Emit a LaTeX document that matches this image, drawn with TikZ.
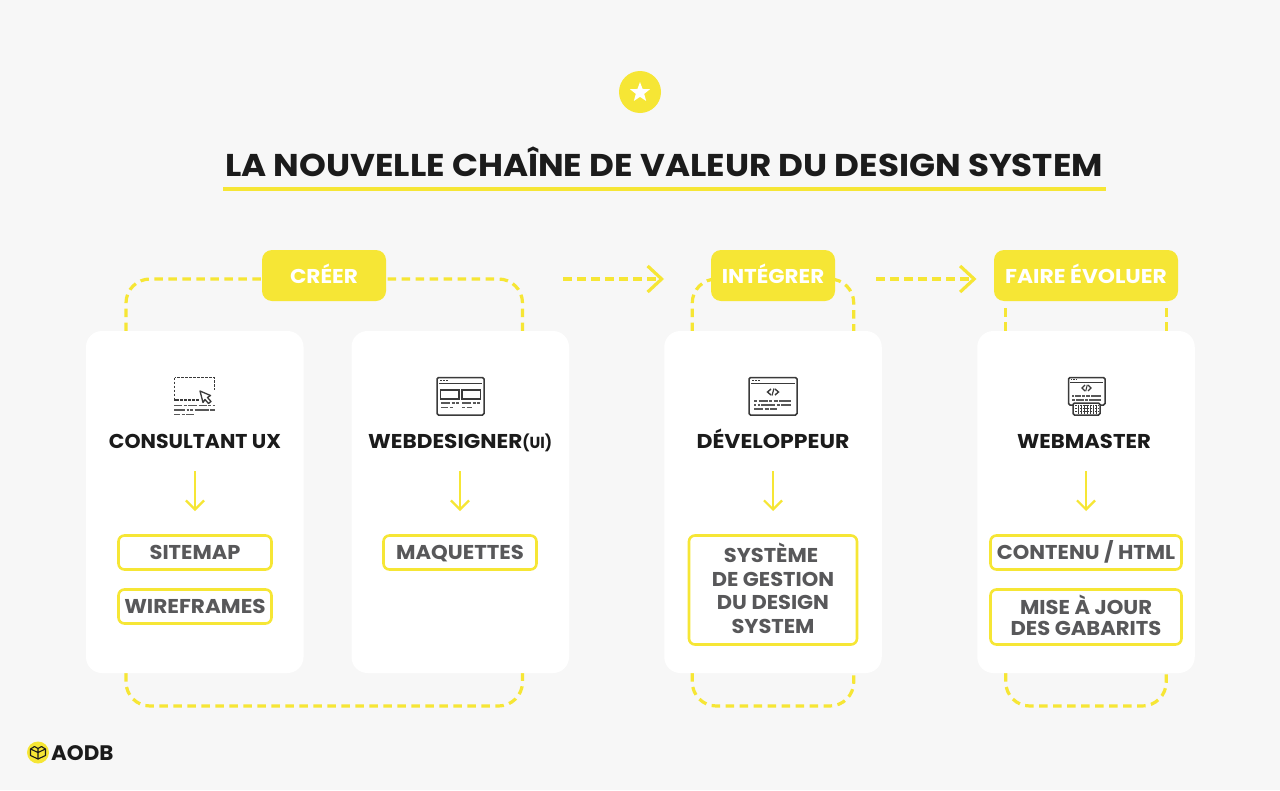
\documentclass[tikz,border=0pt]{standalone}
\usepackage{fontspec}
\setmainfont{Poppins}
\usetikzlibrary{arrows.meta,backgrounds,calc,shapes.geometric}
\definecolor{ybrand}{HTML}{F6E635}
\definecolor{pagebg}{HTML}{F7F7F7}
\definecolor{inktext}{HTML}{1B1B1B}
\definecolor{greytext}{HTML}{58585A}
\definecolor{iconink}{HTML}{3A3A3A}
\newcommand{\fsz}[2]{\fontsize{#1}{#2}\selectfont\bfseries}
\newcommand{\sx}[1]{\addfontfeature{FakeStretch=#1}}
\tikzset{
  x=1pt,y=-1pt,
  cardbox/.style={fill=white,rounded corners=16pt,minimum height=342pt,minimum width=217.5pt,inner sep=0pt,outer sep=0pt},
  capline/.style={text height=14pt,text depth=0pt},
  pillbox/.style={fill=ybrand,rounded corners=10pt,minimum height=51pt,inner sep=0pt,outer sep=0pt,text=white,font=\fsz{20}{24},text height=15.5pt,text depth=0pt},
  rolelabel/.style={text=inktext,font=\fsz{20}{24},inner sep=0pt,anchor=base},
  outbox/.style={draw=ybrand,line width=2.6pt,fill=white,rounded corners=6pt,inner sep=0pt,text=greytext,font=\fsz{20}{24},align=center},
  dashloop/.style={draw=ybrand,line width=3.2pt,dash pattern=on 8.5pt off 5.5pt,rounded corners=24pt},
  flowarrow/.style={draw=ybrand,line width=3.2pt,dash pattern=on 8.5pt off 5.5pt,-{Straight Barb[length=14pt,width=26pt,line width=3.2pt]}},
  downarrow/.style={draw=ybrand,line width=2.2pt,-{Straight Barb[length=9pt,width=18pt,line width=2.2pt]}},
  ic/.style={draw=iconink,line width=1.2pt},
  icthick/.style={draw=iconink,line width=1.5pt,rounded corners=1.5pt},
  icrow/.style={draw=iconink!85,line width=1.6pt,dash pattern=on 8pt off 1.5pt on 3pt off 1.5pt on 9pt off 1.5pt},
}
\begin{document}
\begin{tikzpicture}
\path[use as bounding box] (0,0) rectangle (1280,790);

% header
\node[circle,fill=ybrand,minimum size=42pt,inner sep=0pt] (badge) at (640,92) {};
\node[star,star points=5,star point ratio=2.4,fill=white,minimum size=21pt,inner sep=0pt] (starmark) at (640,92.5) {};
\node[text=inktext,font={\fsz{31.5}{36}\sx{1.084}},inner sep=0pt,anchor=base] (title) at (664,176) {LA NOUVELLE CHAÎNE DE VALEUR DU DESIGN SYSTEM};
\coordinate (ulA) at (223,189);
\coordinate (ulB) at (1106,189);
\draw[ybrand,line width=3.8pt] (ulA) -- (ulB);

% cards
\node[cardbox] (c1) at (194.75,502) {};
\node[cardbox] (c2) at (460.25,502) {};
\node[cardbox] (c3) at (773,502) {};
\node[cardbox] (c4) at (1086,502) {};

% pills
\node[pillbox,minimum width=124pt] (creer) at (324,275.5) {\sx{1.08}CRÉER};
\node[pillbox,minimum width=124pt] (integrer) at (773,275.5) {\sx{1.07}INTÉGRER};
\node[pillbox,minimum width=184pt] (evoluer) at (1086,275.5) {\sx{1.09}FAIRE ÉVOLUER};

% role labels
\node[rolelabel] (r1) at (195,448) {\sx{1.024}CONSULTANT UX};
\node[rolelabel,anchor=base west] (r2) at (368,448) {\sx{1.08}WEBDESIGNER{\fontsize{16}{18}\selectfont\addfontfeature{FakeStretch=0.95}(UI)}};
\node[rolelabel] (r3) at (773,448) {\sx{1.1}DÉVELOPPEUR};
\node[rolelabel] (r4) at (1084,448) {\sx{1.06}WEBMASTER};

% output boxes
\node[outbox,capline,minimum width=153pt,minimum height=34pt] (b1) at (195,552.5) {\sx{1.05}SITEMAP};
\node[outbox,capline,minimum width=153pt,minimum height=34pt] (b2) at (195,606.5) {\sx{1.08}WIREFRAMES};
\node[outbox,capline,minimum width=153pt,minimum height=34pt] (b3) at (460,552.5) {\sx{1.06}MAQUETTES};
\node[outbox,font={\fsz{20}{23.7}\sx{1.05}},minimum width=168pt,minimum height=109pt] (b4) at (773,590) {SYSTÈME\hspace*{4pt}\\[-0.3pt]DE GESTION\hspace*{4pt}\\[-0.3pt]DU DESIGN\\[-0.3pt]SYSTEM\rule[-3.5pt]{0pt}{3.5pt}};
\node[outbox,capline,minimum width=191pt,minimum height=34pt] (b5) at (1086,552.5) {\sx{1.05}CONTENU / HTML};
\node[outbox,font={\fsz{20}{21}\sx{1.056}},minimum width=191pt,minimum height=55pt] (b6) at (1086,617) {MISE À JOUR\\DES GABARITS\rule[-4pt]{0pt}{4pt}};

% card arrows
\foreach \x in {195,460,773,1086}{
  \draw[downarrow] (\x,471) -- (\x,511);
}

% flow arrows
\coordinate (fa1) at (563,279);
\coordinate (fb1) at (664,279);
\coordinate (fa2) at (876,279);
\coordinate (fb2) at (976.5,279);
\draw[flowarrow] (fa1) -- (fb1);
\draw[flowarrow] (fa2) -- (fb2);

% dashed loops, behind the cards and pills
\begin{pgfonlayer}{background}
\fill[pagebg] (0,0) rectangle (1280,790);
\draw[dashloop] ($(c1.north west)+(40,0)$) -- ++(0,-52) -- (creer.west |- fa1);
\draw[dashloop] ($(c2.north east)+(-46.5,0)$) -- ++(0,-52) -- (creer.east |- fa1);
\draw[dashloop] ($(c3.north west)+(28,0)$) -- ++(0,-52) -- ($(c3.north east)+(-28,-52)$) -- ($(c3.north east)+(-28,0)$);
\draw[dashloop] ($(c4.north west)+(28.5,-23)$) -- ($(c4.north west)+(28.5,0)$);
\draw[dashloop] ($(c4.north east)+(-28.5,-23)$) -- ($(c4.north east)+(-28.5,0)$);
\draw[dashloop] ($(c1.south west)+(40,0)$) -- ++(0,33) -- ($(c2.south east)+(-46.5,33)$) -- ($(c2.south east)+(-46.5,0)$);
\draw[dashloop] ($(c3.south west)+(28,0)$) -- ++(0,33) -- ($(c3.south east)+(-28,33)$) -- ($(c3.south east)+(-28,0)$);
\draw[dashloop] ($(c4.south west)+(28.5,0)$) -- ++(0,33) -- ($(c4.south east)+(-28.5,33)$) -- ($(c4.south east)+(-28.5,0)$);
\end{pgfonlayer}

% icon: consultant
\draw[ic,dash pattern=on 2.6pt off 1.4pt] (174.5,377.5) rectangle (214.5,400);
\fill[white] (199,390) rectangle (216,404);
\draw[ic,line width=1.3pt,line join=round] (200,391) -- (210.5,395.5) -- (207.5,397.5) -- (211,401.5) -- (208.5,403.5) -- (205,399.5) -- (203,402.5) -- cycle;
\draw[icrow] (174,405.5) -- (215,405.5);
\draw[icrow,dash pattern=on 11pt off 1.5pt on 2pt off 1.5pt on 3pt off 1.5pt on 14pt off 1.5pt] (174,410) -- (215,410);
\draw[icrow,dash pattern=on 6pt off 1.5pt on 3pt off 1.5pt on 8pt off 30pt] (174,414.5) -- (215,414.5);

% icon: webdesigner
\draw[icthick] (437,377.5) rectangle (484,415);
\draw[ic] (439,383.5) -- (482,383.5);
\draw[ic,dash pattern=on 1.5pt off 1.5pt] (440,380.5) -- (449,380.5);
\draw[ic,line width=1.4pt] (440.5,390) rectangle (459,399);
\draw[ic,line width=1.4pt] (462,390) rectangle (480.5,399);
\draw[icrow,line width=1.3pt,dash pattern=on 9pt off 1.5pt on 3pt off 1.5pt on 4pt off 1.5pt] (441,403) -- (459,403);
\draw[icrow,line width=1.3pt,dash pattern=on 9pt off 1.5pt on 3pt off 1.5pt on 4pt off 1.5pt] (462,403) -- (480,403);
\draw[icrow,line width=1.3pt,dash pattern=on 7pt off 1.5pt on 3pt off 20pt] (441,407.5) -- (459,407.5);
\draw[icrow,line width=1.3pt,dash pattern=on 3pt off 1.5pt on 5pt off 20pt] (462,407.5) -- (480,407.5);

% icon: developpeur
\draw[icthick] (749,377.5) rectangle (797,415);
\draw[ic] (751,383.5) -- (795,383.5);
\draw[ic,dash pattern=on 1.5pt off 1.5pt] (752,380.5) -- (761,380.5);
\draw[ic,line width=1.4pt] (771,389) -- (767.5,392) -- (771,395);
\draw[ic,line width=1.4pt] (775,389) -- (778.5,392) -- (775,395);
\draw[ic,line width=1.2pt] (774,388.5) -- (772,395.5);
\draw[icrow,line width=1.3pt,dash pattern=on 3pt off 1.5pt on 9pt off 1.5pt on 3pt off 1.5pt on 4pt off 1.5pt on 12pt off 1.5pt] (754,401) -- (792,401);
\draw[icrow,line width=1.3pt,dash pattern=on 2pt off 1.5pt on 2pt off 1.5pt on 14pt off 1.5pt on 3pt off 1.5pt on 10pt off 1.5pt] (754,405) -- (792,405);
\draw[icrow,line width=1.3pt,dash pattern=on 9pt off 1.5pt on 4pt off 1.5pt on 7pt off 30pt] (754,409) -- (792,409);

% icon: webmaster
\draw[icthick] (1073,405) -- (1068.5,405) -- (1068.5,377.5) -- (1105,377.5) -- (1105,405) -- (1100,405);
\draw[ic] (1070,382.5) -- (1103,382.5);
\draw[ic,dash pattern=on 1.2pt off 1.2pt] (1071,379.8) -- (1078,379.8);
\draw[ic,line width=1.1pt] (1085,385) -- (1082,388) -- (1085,391);
\draw[ic,line width=1.1pt] (1088,385) -- (1091,388) -- (1088,391);
\draw[ic,line width=1pt] (1087.3,384.8) -- (1085.7,391.2);
\draw[icrow,line width=1.3pt,dash pattern=on 2pt off 1pt on 6pt off 1pt on 3pt off 1pt on 4pt off 1pt on 10pt off 1pt] (1072,396) -- (1101,396);
\draw[icrow,line width=1.3pt,dash pattern=on 3pt off 1pt on 8pt off 1pt on 3pt off 1pt on 12pt off 1pt] (1072,400) -- (1101,400);
\draw[icthick,fill=white] (1073,403) rectangle (1100,415);
\draw[ic,line width=.7pt,dash pattern=on 1.6pt off .9pt] (1075,405.5) -- (1098,405.5) (1075,408.5) -- (1098,408.5) (1075,411.5) -- (1098,411.5);
\draw[ic,line width=.7pt] (1078,404.5) -- (1078,413.5) (1081,404.5) -- (1081,413.5) (1084,404.5) -- (1084,413.5) (1087,404.5) -- (1087,413.5) (1090,404.5) -- (1090,413.5) (1093,404.5) -- (1093,413.5) (1096,404.5) -- (1096,413.5);

% logo
\node[circle,fill=ybrand,minimum size=22pt,inner sep=0pt] (logomark) at (38,752.5) {};
\draw[draw=inktext,line width=1.1pt,line join=round] (30.5,749) -- (34.5,746.5) -- (38,748.5) -- (41.5,746.5) -- (45.5,749) -- (45.5,755.5) -- (38,759) -- (30.5,755.5) -- cycle;
\draw[draw=inktext,line width=1.1pt] (38,748.5) -- (38,759) (30.5,749) -- (38,752.5) -- (45.5,749);
\node[text=inktext,font={\fsz{21}{24}\sx{1.02}},inner sep=0pt,anchor=base west] (logotext) at (51,760) {AODB};
\end{tikzpicture}
\end{document}
